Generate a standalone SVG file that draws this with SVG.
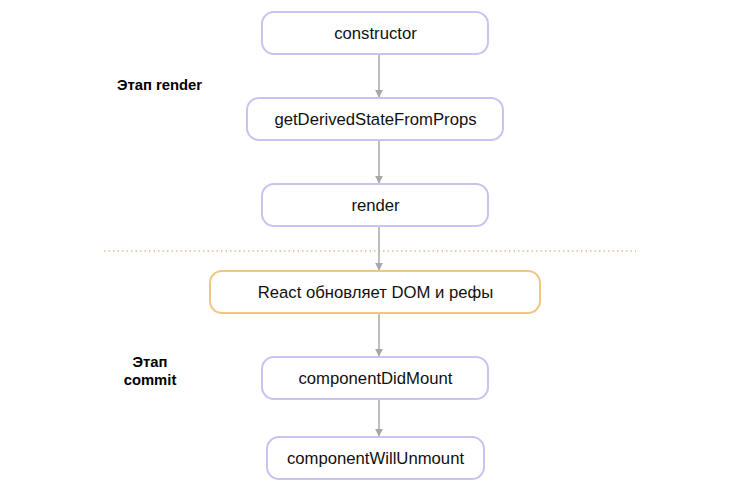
<svg xmlns="http://www.w3.org/2000/svg" width="744" height="494" viewBox="0 0 744 494">
  <defs>
    <style>
      .node rect { fill: #ffffff; stroke: #c9c3f2; stroke-width: 2; }
      .node.dom rect { stroke: #f0c682; }
      .node text { font-family: "Liberation Sans", Arial, sans-serif; font-size: 16.7px; fill: #111; text-anchor: middle; }
      .stage { font-family: "Liberation Sans", Arial, sans-serif; font-size: 14.8px; font-weight: bold; fill: #000; }
      .edge { stroke: #a8a8a8; stroke-width: 1.5; fill: none; marker-end: url(#arrow); }
    </style>
    <marker id="arrow" viewBox="0 0 10 10" refX="9" refY="5" markerWidth="8" markerHeight="8" markerUnits="userSpaceOnUse" orient="auto">
      <path d="M0,0 L10,5 L0,10 z" fill="#a8a8a8"/>
    </marker>
  </defs>
  <rect width="744" height="494" fill="#ffffff"/>

  <!-- stage separator -->
  <line x1="104" y1="251" x2="636" y2="251" stroke="#f2b889" stroke-width="1.5" stroke-dasharray="1.5 3"/>

  <text class="stage" x="117" y="89.5">Этап render</text>
  <text class="stage" x="150" y="367" text-anchor="middle">Этап</text>
  <text class="stage" x="150" y="385" text-anchor="middle">commit</text>

  <g id="edges">
    <line class="edge" x1="379" y1="54" x2="379" y2="97"/>
    <line class="edge" x1="379" y1="140" x2="379" y2="183"/>
    <line class="edge" x1="379" y1="226" x2="379" y2="270"/>
    <line class="edge" x1="379" y1="313" x2="379" y2="356"/>
    <line class="edge" x1="379" y1="399" x2="379" y2="436"/>
  </g>

  <g id="constructor" class="node">
    <rect x="262" y="12" width="226" height="42" rx="12"/>
    <text x="375.5" y="39">constructor</text>
  </g>
  <g id="getDerivedStateFromProps" class="node">
    <rect x="247" y="98" width="256" height="42" rx="12"/>
    <text x="375.5" y="125">getDerivedStateFromProps</text>
  </g>
  <g id="render" class="node">
    <rect x="262" y="184" width="226" height="42" rx="12"/>
    <text x="375.5" y="211">render</text>
  </g>
  <g id="domUpdate" class="node dom">
    <rect x="210" y="271" width="330" height="42" rx="12"/>
    <text x="375.5" y="298">React обновляет DOM и рефы</text>
  </g>
  <g id="componentDidMount" class="node">
    <rect x="262" y="357" width="226" height="42" rx="12"/>
    <text x="375.5" y="384">componentDidMount</text>
  </g>
  <g id="componentWillUnmount" class="node">
    <rect x="267" y="437" width="217" height="42" rx="12"/>
    <text x="375.5" y="464">componentWillUnmount</text>
  </g>
</svg>
